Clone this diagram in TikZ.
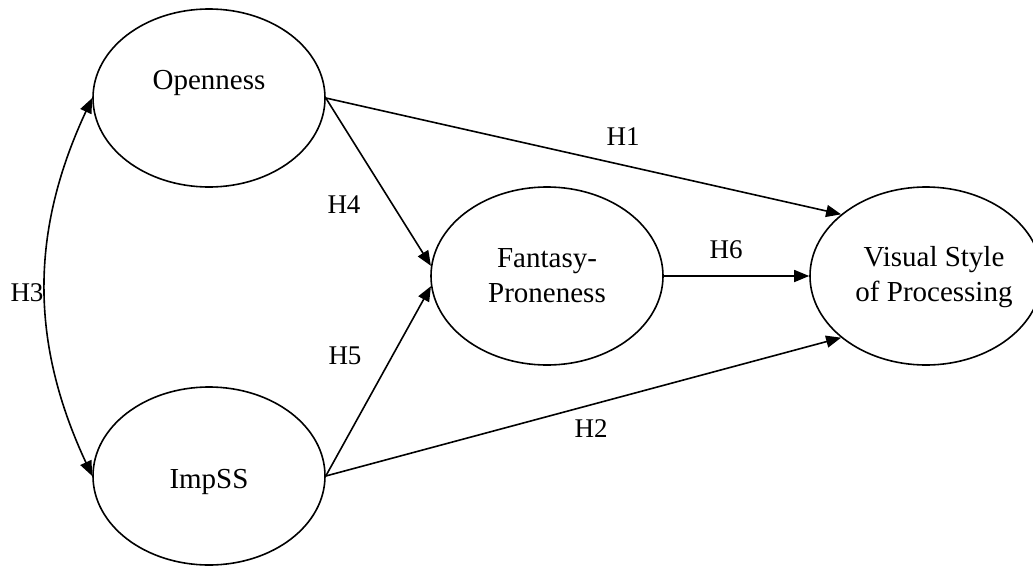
\documentclass[tikz,border=0pt]{standalone}
\usepackage{fontspec}
\setmainfont{Liberation Serif}
\usetikzlibrary{shapes.geometric,arrows.meta}
\tikzset{
  ell/.style={draw, ellipse, line width=1.6pt, minimum width=232pt, minimum height=178pt, inner sep=0pt, align=center, font=\fontsize{29}{35}\selectfont},
  txt/.style={inner sep=0pt, align=center, font=\fontsize{29}{35}\selectfont},
  hlab/.style={inner sep=0pt, font=\fontsize{27}{30}\selectfont},
  conn/.style={line width=1.6pt, -{Triangle[length=15pt,width=12pt]}},
  biconn/.style={line width=1.6pt, {Triangle[length=15pt,width=12pt]}-{Triangle[length=15pt,width=12pt]}}
}
\begin{document}
\begin{tikzpicture}[x=1pt,y=-1pt]
\useasboundingbox (0,0) rectangle (1033,565);
\node[ell] (open) at (209,98) {};
\node[txt] (opentext) at (209,83) {Openness};
\node[ell] (imp) at (209,476) {};
\node[txt] (imptext) at (209,482) {ImpSS};
\node[ell] (fan) at (547,276) {Fantasy-\\Proneness};
\node[ell] (vis) at (926,276) {};
\node[txt] (vistext) at (934,277) {Visual Style\\of Processing};

\draw[conn] (open.east) -- (vis.144);
\draw[conn] (open.east) -- (fan.175);
\draw[conn] (imp.east) -- (fan.185);
\draw[conn] (imp.east) -- (vis.216);
\draw[conn] (fan.east) -- (vis.west);
\draw[biconn] (open.west) to[out=245,in=115] (imp.west);

\node[hlab] (h1) at (623,137) {H1};
\node[hlab] (h2) at (591,429) {H2};
\node[hlab] (h3) at (27,293) {H3};
\node[hlab] (h4) at (344,205) {H4};
\node[hlab] (h5) at (345,356) {H5};
\node[hlab] (h6) at (726,250) {H6};
\end{tikzpicture}
\end{document}
